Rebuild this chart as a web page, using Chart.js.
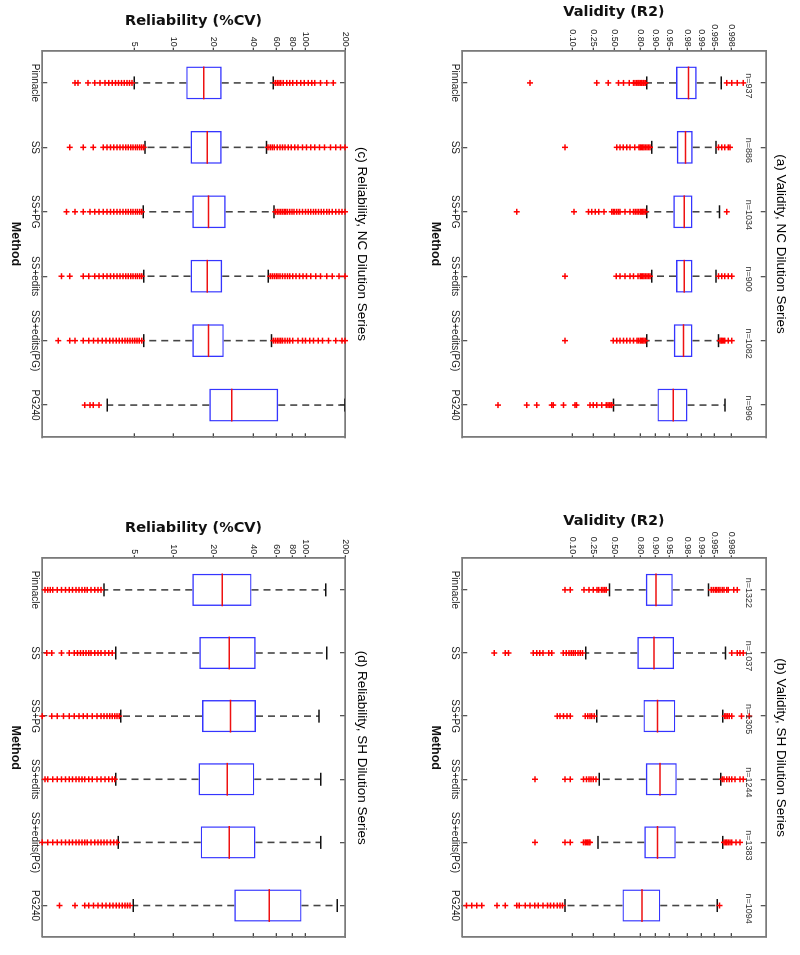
<!DOCTYPE html>
<html>
<head>
<meta charset="utf-8">
<script src="https://cdn.jsdelivr.net/npm/chart.js@4"></script>
<style>
    html, body { margin: 0; padding: 0; background: #fff; overflow: hidden; }
    /* figure is laid out in landscape, then turned a quarter turn clockwise like the scan */
    #page { position: absolute; left: 0; top: 0; width: 955px; height: 800px;
            transform-origin: 0 0; transform: translate(800px, 0) rotate(90deg); }
    .panel { position: absolute; }
</style>
</head>
<body>
<div id="page">
    <div class="panel" style="left:0;top:0"><canvas id="chartA" width="480" height="400"></canvas></div>
    <div class="panel" style="left:480px;top:0"><canvas id="chartB" width="475" height="400"></canvas></div>
    <div class="panel" style="left:0;top:400px"><canvas id="chartC" width="480" height="400"></canvas></div>
    <div class="panel" style="left:480px;top:400px"><canvas id="chartD" width="475" height="400"></canvas></div>
</div>
<script>
const methods = ['Pinnacle', 'SS', 'SS+PG', 'SS+edits', 'SS+edits(PG)', 'PG240'];

const validityTicks = [0.10, 0.25, 0.50, 0.80, 0.90, 0.95, 0.98, 0.99, 0.995, 0.998];
const validityTickLabels = ['0.10', '0.25', '0.50', '0.80', '0.90', '0.95', '0.98', '0.99', '0.995', '0.998'];
const reliabilityTicks = [5, 10, 20, 40, 60, 80, 100, 200];

// (a) Validity, NC dilution series
const ncValidityN = ['n=937', 'n=886', 'n=1034', 'n=900', 'n=1082', 'n=996'];
const ncValidityLow = [0.849, 0.88, 0.849, 0.88, 0.849, 0.492];
const ncValidityQ1 = [0.9634, 0.9648, 0.958, 0.9634, 0.959, 0.908];
const ncValidityMedian = [0.9806, 0.9774, 0.976, 0.976, 0.9749, 0.958];
const ncValidityQ3 = [0.9874, 0.9845, 0.9843, 0.9843, 0.9843, 0.9796];
const ncValidityHigh = [0.9965, 0.9954, 0.9962, 0.9954, 0.996, 0.99715];
const ncValidityOutliers = [
    [0.0118, 0.287, 0.426, 0.558, 0.622, 0.692, 0.736, 0.752, 0.769, 0.78, 0.79, 0.80, 0.81, 0.815, 0.825, 0.83, 0.84, 0.9974, 0.998, 0.9985, 0.9989],
    [0.070, 0.536, 0.58, 0.62, 0.662, 0.70, 0.75, 0.79, 0.80, 0.81, 0.82, 0.83, 0.84, 0.85, 0.86, 0.87, 0.996, 0.9966, 0.9971, 0.9976, 0.9978],
    [0.0059, 0.108, 0.206, 0.236, 0.27, 0.31, 0.37, 0.47, 0.49, 0.51, 0.536, 0.558, 0.579, 0.64, 0.70, 0.736, 0.755, 0.77, 0.785, 0.80, 0.81, 0.82, 0.83, 0.84, 0.9974],
    [0.070, 0.53, 0.58, 0.64, 0.70, 0.736, 0.78, 0.80, 0.81, 0.82, 0.83, 0.84, 0.85, 0.86, 0.87, 0.996, 0.9966, 0.9971, 0.9976, 0.998],
    [0.070, 0.49, 0.536, 0.579, 0.622, 0.662, 0.70, 0.736, 0.77, 0.785, 0.80, 0.81, 0.82, 0.83, 0.84, 0.9963, 0.9965, 0.9967, 0.9969, 0.9971, 0.9976, 0.998],
    [0.0022, 0.0099, 0.0167, 0.036, 0.039, 0.065, 0.113, 0.122, 0.221, 0.251, 0.287, 0.343, 0.40, 0.42, 0.44, 0.46, 0.47]
];

// (b) Validity, SH dilution series
const shValidityN = ['n=1322', 'n=1037', 'n=1305', 'n=1244', 'n=1383', 'n=1094'];
const shValidityLow = [0.44, 0.184, 0.287, 0.316, 0.30, 0.07];
const shValidityQ1 = [0.842, 0.774, 0.825, 0.842, 0.832, 0.609];
const shValidityMedian = [0.902, 0.892, 0.908, 0.919, 0.908, 0.815];
const shValidityQ3 = [0.957, 0.9597, 0.962, 0.9648, 0.963, 0.920];
const shValidityHigh = [0.9932, 0.9972, 0.9968, 0.9964, 0.9968, 0.9957];
const shValidityOutliers = [
    [0.07, 0.09, 0.17, 0.21, 0.25, 0.29, 0.31, 0.34, 0.36, 0.38, 0.40, 0.9941, 0.9947, 0.9952, 0.9956, 0.996, 0.9963, 0.9967, 0.997, 0.9974, 0.9976, 0.9982, 0.9985],
    [0.0018, 0.0032, 0.0038, 0.0139, 0.0167, 0.0196, 0.0232, 0.031, 0.036, 0.064, 0.075, 0.085, 0.095, 0.105, 0.115, 0.13, 0.145, 0.16, 0.998, 0.9985, 0.9987, 0.9989],
    [0.048, 0.055, 0.065, 0.077, 0.091, 0.18, 0.20, 0.22, 0.236, 0.26, 0.9971, 0.9973, 0.9975, 0.9977, 0.998, 0.9988, 0.9992],
    [0.0152, 0.07, 0.09, 0.166, 0.19, 0.21, 0.23, 0.25, 0.28, 0.9967, 0.997, 0.9974, 0.9977, 0.998, 0.9983, 0.9987, 0.9989],
    [0.0152, 0.07, 0.09, 0.166, 0.18, 0.19, 0.20, 0.21, 0.22, 0.997, 0.9972, 0.9974, 0.9976, 0.9978, 0.998, 0.9984, 0.9987],
    [0.00042, 0.00055, 0.00072, 0.00093, 0.0021, 0.0032, 0.0059, 0.0067, 0.0092, 0.0118, 0.015, 0.018, 0.023, 0.029, 0.034, 0.040, 0.048, 0.055, 0.062, 0.9962]
];

// (c) Reliability, NC dilution series
const ncReliabilityLow = [5.0, 6.03, 5.85, 5.9, 5.9, 3.12];
const ncReliabilityQ1 = [12.4, 13.4, 13.8, 13.4, 13.8, 18.6];
const ncReliabilityMedian = [16.9, 17.95, 18.3, 17.95, 18.3, 27.5];
const ncReliabilityQ3 = [23.1, 23.1, 24.8, 23.3, 24.0, 62.2];
const ncReliabilityHigh = [57.0, 50.7, 57.6, 52.3, 55.3, 200];
const ncReliabilityOutliers = [
    [1.77, 1.87, 2.23, 2.5, 2.74, 3.0, 3.2, 3.4, 3.6, 3.8, 4.0, 4.2, 4.4, 4.6, 4.8,
     59, 61, 63, 65, 68, 72, 76, 80, 86, 92, 98, 105, 112, 118, 130, 145, 163],
    [1.62, 2.05, 2.44, 2.9, 3.1, 3.3, 3.5, 3.7, 3.9, 4.1, 4.3, 4.5, 4.7, 4.9, 5.1, 5.3, 5.5, 5.7, 5.9,
     52, 54, 56, 58, 61, 64, 67, 70, 74, 78, 83, 88, 95, 102, 110, 118, 128, 140, 155, 170, 185, 200],
    [1.53, 1.77, 2.05, 2.3, 2.5, 2.7, 2.9, 3.1, 3.3, 3.5, 3.7, 3.9, 4.1, 4.3, 4.5, 4.7, 4.9, 5.1, 5.3, 5.5, 5.7,
     59, 61, 63, 65, 67, 69, 71, 73, 76, 79, 82, 86, 90, 95, 100, 105, 110, 115, 120, 126, 132, 138, 145, 152, 160, 170, 180, 190, 200],
    [1.4, 1.62, 2.05, 2.25, 2.5, 2.7, 2.9, 3.1, 3.3, 3.5, 3.7, 3.9, 4.1, 4.3, 4.5, 4.7, 4.9, 5.1, 5.3, 5.5, 5.7,
     54, 56, 58, 60, 62, 64, 67, 70, 73, 76, 80, 85, 90, 96, 102, 110, 120, 130, 145, 160, 180, 200],
    [1.32, 1.62, 1.77, 2.05, 2.25, 2.45, 2.65, 2.85, 3.05, 3.25, 3.45, 3.65, 3.85, 4.05, 4.25, 4.45, 4.65, 4.85, 5.05, 5.25, 5.45, 5.7,
     57, 59, 61, 63, 65, 67, 70, 73, 76, 80, 88, 95, 100, 108, 115, 125, 135, 150, 170, 190, 200],
    [2.1, 2.3, 2.44, 2.7]
];

// (d) Reliability, SH dilution series
const shReliabilityLow = [2.94, 3.61, 3.94, 3.61, 3.78, 4.91];
const shReliabilityQ1 = [13.8, 15.6, 16.4, 15.4, 16.0, 28.8];
const shReliabilityMedian = [23.3, 26.4, 27.0, 25.5, 26.4, 53.2];
const shReliabilityQ3 = [39.0, 41.9, 42.1, 40.9, 41.7, 93.6];
const shReliabilityHigh = [142.6, 145, 126.8, 130.6, 130.6, 175];
const shReliabilityOutliers = [
    [1.05, 1.1, 1.15, 1.2, 1.3, 1.4, 1.5, 1.6, 1.7, 1.8, 1.9, 2.0, 2.1, 2.2, 2.35, 2.5, 2.65, 2.8],
    [1.08, 1.18, 1.4, 1.6, 1.75, 1.85, 1.95, 2.05, 2.15, 2.25, 2.35, 2.5, 2.65, 2.8, 3.0, 3.2, 3.4],
    [1.0, 1.18, 1.3, 1.45, 1.6, 1.75, 1.9, 2.05, 2.2, 2.4, 2.6, 2.8, 2.95, 3.1, 3.25, 3.4, 3.55, 3.7, 3.85],
    [1.05, 1.1, 1.2, 1.3, 1.4, 1.5, 1.6, 1.7, 1.8, 1.9, 2.0, 2.1, 2.25, 2.4, 2.6, 2.8, 3.0, 3.2, 3.4, 3.55],
    [1.0, 1.1, 1.2, 1.3, 1.4, 1.5, 1.6, 1.7, 1.8, 1.9, 2.0, 2.1, 2.2, 2.35, 2.5, 2.65, 2.8, 2.95, 3.1, 3.3, 3.5, 3.7],
    [1.35, 1.77, 2.1, 2.25, 2.45, 2.65, 2.85, 3.05, 3.25, 3.45, 3.65, 3.85, 4.05, 4.25, 4.45, 4.65]
];

Chart.defaults.font.family = "'Liberation Sans', Arial, sans-serif";
Chart.defaults.animation = false;

function logit(r) {
    return Math.log(r / (1 - r));
}

//Writes the n= counts just under the top of the frame
const countLabelPlugin = {
    id: 'countLabels',
    afterDatasetsDraw(chart, args, opts) {
        if (!opts.labels)
            return;
        let ctx = chart.ctx;
        let xScale = chart.scales.x;
        ctx.save();
        ctx.font = "9px 'Liberation Sans', Arial, sans-serif";
        ctx.fillStyle = '#333';
        ctx.textAlign = 'center';
        ctx.textBaseline = 'middle';
        opts.labels.forEach((t, i) => ctx.fillText(t, xScale.getPixelForValue(i) + 3, chart.chartArea.top + 17));
        ctx.restore();
    }
};

function valueScale(p, right) {
    let validity = p.kind === 'validity';
    let scale = {
        type: validity ? 'linear' : 'logarithmic',
        position: right ? 'right' : 'left',
        min: validity ? -8 : 1,
        max: validity ? 8 : 200,
        afterBuildTicks: axis => {
            axis.ticks = validity ? validityTicks.map(v => ({ value: logit(v) })) : reliabilityTicks.map(v => ({ value: v }));
        },
        border: { color: '#7a7a7a', width: 1.8 },
        grid: { drawOnChartArea: false, tickLength: right ? -4 : 3, tickColor: '#444', lineWidth: 1.3 },
        ticks: {
            autoSkip: false,
            padding: 1,
            color: '#222',
            font: { size: 9 },
            callback: (v, i) => right ? '' : (validity ? validityTickLabels[i] : String(reliabilityTicks[i]))
        },
        afterFit: axis => { axis.width = right ? p.box.right : p.box.left; }
    };
    if (!right)
        scale.title = {
            display: true,
            text: validity ? 'Validity (R2)' : 'Reliability (%CV)',
            color: '#111',
            font: { family: "'DejaVu Sans', Verdana, sans-serif", size: 14.5, weight: 'bold' },
            padding: { top: p.box.yTitle - 8.7, bottom: 0 }
        };
    return scale;
}

function methodScale(p, top) {
    return {
        type: 'category',
        position: top ? 'top' : 'bottom',
        offset: true,
        border: { color: '#7a7a7a', width: 1.8 },
        grid: { offset: false, drawOnChartArea: false, tickLength: -5, tickColor: '#555', lineWidth: 1.3 },
        ticks: {
            autoSkip: false,
            maxRotation: 0,
            padding: 7,
            color: '#222',
            font: { size: 10 },
            callback: function (v, i) { return top ? '' : this.getLabelForValue(v); }
        },
        title: top
            ? { display: true, text: p.title, color: '#000', font: { size: 13.5 }, padding: { top: p.box.title - 8.1, bottom: 0 } }
            : { display: true, text: 'Method', color: '#111', font: { size: 12.5, weight: 'bold' }, padding: { top: 0, bottom: p.box.xTitle - 7.5 } },
        afterFit: axis => { axis.height = top ? p.box.top : p.box.bottom; }
    };
}

//Build one boxplot panel: boxes as floating bars, the rest as point/line datasets
function createBoxPanel(canvasId, p) {
    let tf = p.kind === 'validity' ? logit : (v => v);
    let whiskers = [];
    let caps = [];
    let outliers = [];
    methods.forEach((m, i) => {
        whiskers.push({ x: m, y: tf(p.q3[i]) }, { x: m, y: tf(p.high[i]) }, { x: m, y: null });
        whiskers.push({ x: m, y: tf(p.q1[i]) }, { x: m, y: tf(p.low[i]) }, { x: m, y: null });
        caps.push({ x: m, y: tf(p.low[i]) }, { x: m, y: tf(p.high[i]) });
        p.outliers[i].forEach(v => outliers.push({ x: m, y: tf(v) }));
    });

    new Chart(canvasId, {
        type: 'bar',
        data: {
            labels: methods,
            datasets: [
                {
                    type: 'line', data: outliers, showLine: false, pointStyle: 'cross',
                    pointRadius: 3, pointBorderColor: '#ff0000', pointBorderWidth: 1.5, clip: 5, order: 0
                },
                {
                    type: 'line', data: methods.map((m, i) => ({ x: m, y: tf(p.median[i]) })), showLine: false,
                    pointStyle: 'line', pointRadius: 16.4, pointBorderColor: '#ee1111', pointBorderWidth: 1.5, order: 1
                },
                {
                    type: 'line', data: caps, showLine: false, pointStyle: 'line',
                    pointRadius: 6.5, pointBorderColor: '#111', pointBorderWidth: 1.5, order: 2
                },
                {
                    type: 'line', data: whiskers, spanGaps: false, pointRadius: 0,
                    borderColor: '#454545', borderWidth: 1.6, borderDash: [7, 5], order: 3
                },
                {
                    data: methods.map((m, i) => [tf(p.q1[i]), tf(p.q3[i])]),
                    backgroundColor: 'rgba(0,0,0,0)', borderColor: '#3535ff', borderWidth: 1.4,
                    borderSkipped: false, barPercentage: 0.51, categoryPercentage: 1, order: 4
                }
            ]
        },
        options: {
            responsive: false,
            events: [],
            layout: { padding: 0 },
            plugins: {
                legend: { display: false },
                tooltip: { enabled: false },
                countLabels: { labels: p.n }
            },
            scales: {
                x: methodScale(p, false),
                x2: methodScale(p, true),
                y: valueScale(p, false),
                y2: valueScale(p, true)
            }
        },
        plugins: [countLabelPlugin]
    });
}

createBoxPanel('chartA', {
    title: '(a) Validity, NC Dilution Series', kind: 'validity', n: ncValidityN,
    low: ncValidityLow, q1: ncValidityQ1, median: ncValidityMedian, q3: ncValidityQ3, high: ncValidityHigh, outliers: ncValidityOutliers,
    box: { left: 50.7, right: 42.7, top: 34.3, bottom: 62.3, title: 19.5, yTitle: 12, xTitle: 35 }
});
createBoxPanel('chartB', {
    title: '(b) Validity, SH Dilution Series', kind: 'validity', n: shValidityN,
    low: shValidityLow, q1: shValidityQ1, median: shValidityMedian, q3: shValidityQ3, high: shValidityHigh, outliers: shValidityOutliers,
    box: { left: 78.3, right: 10, top: 34.3, bottom: 62.3, title: 19.5, yTitle: 41, xTitle: 35 }
});
createBoxPanel('chartC', {
    title: '(c) Reliability, NC Dilution Series', kind: 'reliability', n: null,
    low: ncReliabilityLow, q1: ncReliabilityQ1, median: ncReliabilityMedian, q3: ncReliabilityQ3, high: ncReliabilityHigh, outliers: ncReliabilityOutliers,
    box: { left: 50.7, right: 42.7, top: 55, bottom: 42.3, title: 38.3, yTitle: 21, xTitle: 15 }
});
createBoxPanel('chartD', {
    title: '(d) Reliability, SH Dilution Series', kind: 'reliability', n: null,
    low: shReliabilityLow, q1: shReliabilityQ1, median: shReliabilityMedian, q3: shReliabilityQ3, high: shReliabilityHigh, outliers: shReliabilityOutliers,
    box: { left: 78.3, right: 10, top: 55, bottom: 42.3, title: 38.3, yTitle: 48.5, xTitle: 15 }
});
</script>
</body>
</html>
